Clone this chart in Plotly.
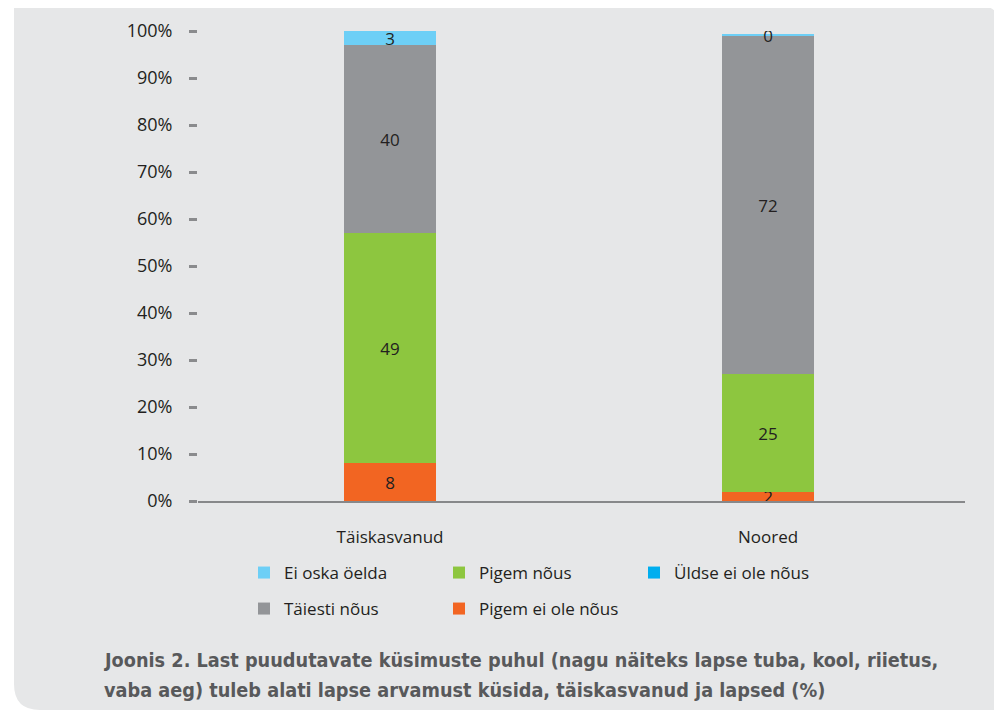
import plotly.graph_objects as go

# the page body adds an 8px margin, so the figure is drawn 8px in from the corner
OFF = 8
W, H = 1002 - OFF, 711 - OFF
L, R, T, B = 198 - OFF, 37, 31 - OFF, 210

groups = ["Täiskasvanud", "Noored"]

pigem_ei_ole = [8, 2]
pigem_nous = [49, 25]
taiesti_nous = [40, 72]
uldse_ei_ole = [0, 0]
ei_oska = [3, 0.4]

y_ticks = list(range(0, 101, 10))
y_ticktext = [f"{v}%" for v in y_ticks]

series = [
    ("Pigem ei ole nõus", pigem_ei_ole, "#f26522", "legend2", 2),
    ("Pigem nõus", pigem_nous, "#8dc63f", "legend", 2),
    ("Täiesti nõus", taiesti_nous, "#939598", "legend2", 1),
    ("Üldse ei ole nõus", uldse_ei_ole, "#00aeef", "legend", 3),
    ("Ei oska öelda", ei_oska, "#6dcff6", "legend", 1),
]

FONT = "Open Sans, Noto Sans, sans-serif"
TXT = "#231f20"
PANEL = "#e6e7e8"


def px_x(p):
    # reference pixel -> paper fraction
    return (p - OFF - L) / (W - L - R)


def px_y(p):
    return (H - B - (p - OFF)) / (H - T - B)


fig = go.Figure()
for name, vals, color, leg, rank in series:
    show_text = name != "Üldse ei ole nõus"
    fig.add_trace(go.Bar(
        x=groups,
        y=vals,
        name=name,
        marker=dict(color=color, line=dict(width=0)),
        width=0.243,
        texttemplate="%{y:.0f}" if show_text else "",
        textposition="inside",
        insidetextanchor="middle",
        textangle=0,
        textfont=dict(family=FONT, size=17, color=TXT),
        legend=leg,
        legendrank=rank,
        hoverinfo="skip",
    ))

# background panel with rounded corners
r = 26
x0, x1 = px_x(14), px_x(1030)
y0, y1 = px_y(5), px_y(710)
panel_path = (
    f"M {x0},{y0} "
    f"L {px_x(1002 - r)},{y0} "
    f"Q {px_x(1002)},{y0} {px_x(1002)},{px_y(5 + r)} "
    f"L {x1},{px_y(5 + r)} L {x1},{y1} "
    f"L {px_x(14 + r)},{y1} "
    f"Q {x0},{y1} {x0},{px_y(710 - r)} Z"
)
fig.add_shape(type="path", path=panel_path, xref="paper", yref="paper",
              fillcolor=PANEL, line=dict(width=0), layer="below")

caption = [
    "Joonis 2. Last puudutavate küsimuste puhul (nagu näiteks lapse tuba, kool, riietus,",
    "vaba aeg) tuleb alati lapse arvamust küsida, täiskasvanud ja lapsed (%)",
]
for i, line in enumerate(caption):
    fig.add_annotation(
        text=f"<b>{line}</b>", xref="paper", yref="paper",
        x=px_x(102), y=px_y(660 + 30 * i), xanchor="left", yanchor="middle",
        showarrow=False,
        font=dict(family="Liberation Sans Narrow, DejaVu Sans Condensed, sans-serif",
                  size=19.7, color="#58595b"),
    )

legend_common = dict(
    orientation="h", xanchor="left", yanchor="middle",
    bgcolor="rgba(0,0,0,0)", traceorder="normal",
    font=dict(family=FONT, size=17, color=TXT),
    entrywidth=150,
)

fig.update_layout(
    width=W, height=H,
    margin=dict(l=L, r=R, t=T, b=B, autoexpand=False),
    paper_bgcolor="white",
    plot_bgcolor="rgba(0,0,0,0)",
    barmode="stack",
    bargap=0,
    uniformtext=dict(mode="show", minsize=17),
    font=dict(family=FONT, size=17, color=TXT),
    showlegend=True,
    legend=dict(x=px_x(244), y=px_y(573), **legend_common),
    legend2=dict(x=px_x(244), y=px_y(609), **legend_common),
    xaxis=dict(
        type="category", range=[-0.508, 1.521], automargin=False,
        showline=True, linecolor="#87888a", linewidth=2,
        ticks="", showgrid=False, zeroline=False,
        ticklabelstandoff=20,
        tickfont=dict(family=FONT, size=17, color=TXT),
    ),
    yaxis=dict(
        range=[0, 100], tickmode="array", tickvals=y_ticks, ticktext=y_ticktext,
        automargin=False,
        showgrid=False, zeroline=False, showline=False,
        ticks="outside", ticklen=8, tickwidth=3, tickcolor="#8a8b8d",
        ticklabelstandoff=13,
        tickfont=dict(family=FONT, size=18, color=TXT),
    ),
)

fig.write_html("out.html")
